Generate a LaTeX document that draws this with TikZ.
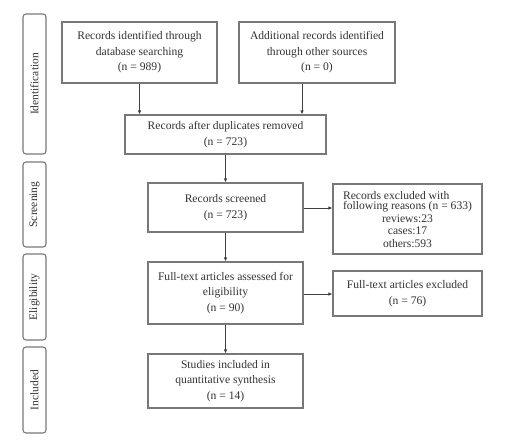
\documentclass[tikz,border=0pt]{standalone}
\usepackage{fontspec}
\setmainfont{Liberation Serif}
\usetikzlibrary{arrows.meta}
\definecolor{edge}{RGB}{120,120,120}
\definecolor{txt}{RGB}{50,50,50}
\begin{document}
\begin{tikzpicture}[x=1pt,y=-1pt,
  box/.style={draw=edge,line width=1.1pt,text=txt,align=center,inner sep=0pt,font=\fontsize{11.6}{15.5}\selectfont},
  side/.style={draw=edge,line width=1.1pt,rounded corners=3pt,text=txt,font=\fontsize{11.5}{13}\selectfont},
  arr/.style={-{Latex[length=4pt,width=3.5pt]},draw=black!75,line width=0.8pt}]
\useasboundingbox (0,0) rectangle (513,443);
% side labels
\draw[side] (23,14) rectangle (46,154) node[midway,rotate=90] (sid) {Identification};
\draw[side] (23,162) rectangle (46,247) node[midway,rotate=90] (ssc) {Screening};
\draw[side] (23,254) rectangle (46,340) node[midway,rotate=90] (sel) {Eligibility};
\draw[side] (23,347) rectangle (46,433) node[midway,rotate=90] (sin) {Included};
% boxes
\node[box,minimum width=155pt,minimum height=61pt] (b1) at (139.5,52.5) {Records identified through\\database searching\\(n = 989)};
\node[box,minimum width=156pt,minimum height=61pt] (b2) at (317,52.5) {Additional records identified\\through other sources\\(n = 0)};
\node[box,minimum width=201pt,minimum height=39pt] (b3) at (225.5,134.5) {Records after duplicates removed\\(n = 723)};
\node[box,minimum width=155pt,minimum height=49pt] (b4) at (225.5,207.5) {Records screened\\(n = 723)};
\node[box,minimum width=149pt,minimum height=70pt,font=\fontsize{11.6}{12.8}\selectfont] (b5) at (407.5,219) {{\begin{tabular}{@{}l@{}}Records excluded with\\[-2.5pt]following reasons (n = 633)\end{tabular}}\\reviews:23\\cases:17\\others:593};
\node[box,minimum width=149pt,minimum height=45pt] (b7) at (407.5,293.5) {Full-text articles excluded\\(n = 76)};
\node[box,minimum width=155pt,minimum height=62pt] (b6) at (225.5,293) {Full-text articles assessed for\\eligibility\\(n = 90)};
\node[box,minimum width=155pt,minimum height=54pt] (b8) at (225.5,381) {Studies included in\\quantitative synthesis\\(n = 14)};
% connectors
\draw[arr] (b1.south) -- (b1.south |- b3.north);
\draw[arr] (b2.south -| 302,0) -- (302,0 |- b3.north);
\draw[arr] (b3.south) -- (b4.north);
\draw[arr] (b4.east |- 0,208) -- (b5.west |- 0,208);
\draw[arr] (b4.south) -- (b6.north);
\draw[arr] (b6.east |- 0,294) -- (b7.west |- 0,294);
\draw[arr] (b6.south) -- (b8.north);
\end{tikzpicture}
\end{document}
